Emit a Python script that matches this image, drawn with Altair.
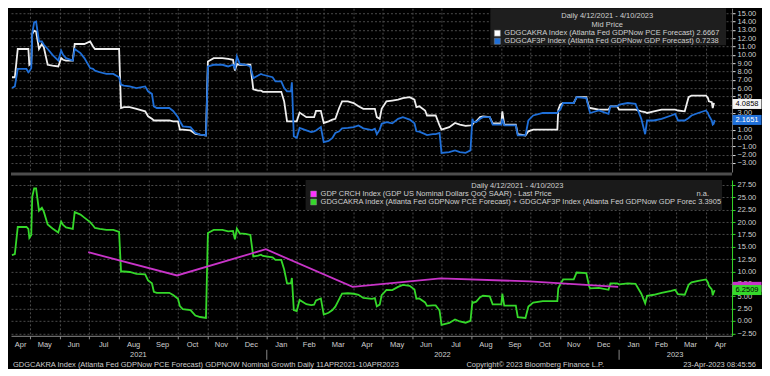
import altair as alt
import pandas as pd

# ---------------- data ----------------
dates = [
    "2021-04-12", "2021-04-15", "2021-04-18", "2021-04-27", "2021-04-29", "2021-04-30",
    "2021-05-02", "2021-05-03", "2021-05-05", "2021-05-07", "2021-05-10", "2021-05-13", "2021-05-15", "2021-05-19", "2021-05-24", "2021-05-30",
    "2021-06-02", "2021-06-04", "2021-06-07", "2021-06-14", "2021-06-16", "2021-06-22", "2021-06-26",
    "2021-07-02", "2021-07-05", "2021-07-07", "2021-07-12", "2021-07-19", "2021-07-26",
    "2021-08-01", "2021-08-03", "2021-08-06", "2021-08-12", "2021-08-19", "2021-08-28", "2021-08-31",
    "2021-09-04", "2021-09-06", "2021-09-09", "2021-09-22", "2021-09-26",
    "2021-10-01", "2021-10-03", "2021-10-06", "2021-10-14", "2021-10-19", "2021-10-24", "2021-10-30",
    "2021-11-01", "2021-11-07", "2021-11-16", "2021-11-22", "2021-11-27", "2021-11-29",
    "2021-12-01", "2021-12-04", "2021-12-10", "2021-12-15", "2021-12-18", "2021-12-23", "2021-12-26", "2021-12-28",
    "2022-01-07", "2022-01-10", "2022-01-16", "2022-01-19", "2022-01-22", "2022-01-26", "2022-01-27", "2022-01-29",
    "2022-02-01", "2022-02-04", "2022-02-11", "2022-02-16", "2022-02-19", "2022-02-21", "2022-02-26",
    "2022-03-01", "2022-03-06", "2022-03-10", "2022-03-13", "2022-03-17", "2022-03-20", "2022-03-26",
    "2022-04-01", "2022-04-06", "2022-04-11", "2022-04-20", "2022-04-23", "2022-04-25", "2022-04-28", "2022-04-30",
    "2022-05-05", "2022-05-11", "2022-05-17", "2022-05-22", "2022-05-29",
    "2022-06-03", "2022-06-05", "2022-06-08", "2022-06-14", "2022-06-16", "2022-06-22", "2022-06-25", "2022-06-29",
    "2022-07-01", "2022-07-09", "2022-07-15", "2022-07-20", "2022-07-26", "2022-07-31",
    "2022-08-02", "2022-08-03", "2022-08-06", "2022-08-10", "2022-08-13", "2022-08-20", "2022-08-23",
    "2022-09-01", "2022-09-02", "2022-09-04", "2022-09-16", "2022-09-18", "2022-09-26", "2022-09-29",
    "2022-10-04", "2022-10-14", "2022-10-29", "2022-10-30",
    "2022-11-01", "2022-11-04", "2022-11-15", "2022-11-18", "2022-11-28",
    "2022-12-01", "2022-12-02", "2022-12-11", "2022-12-21", "2022-12-23", "2022-12-30",
    "2023-01-01", "2023-01-10", "2023-01-18", "2023-01-24", "2023-01-28", "2023-01-30",
    "2023-02-06", "2023-02-14", "2023-02-24", "2023-02-28",
    "2023-03-03", "2023-03-10", "2023-03-14", "2023-03-17", "2023-03-24",
    "2023-04-01", "2023-04-03", "2023-04-04", "2023-04-07", "2023-04-08", "2023-04-09", "2023-04-10",
]

# GDGCAKRA Index (Atlanta Fed GDPNow PCE Forecast) - white
pce = [
    7.3, 7.3, 10.7, 10.7, 10.7, 8.8,
    9.0, 12.5, 12.9, 12.8, 10.7, 11.3, 10.9, 8.8, 8.7, 8.6,
    9.6, 9.4, 9.3, 9.3, 11.3, 11.3, 11.3,
    11.6, 11.0, 10.7, 10.7, 10.7, 10.7,
    10.7, 3.6, 3.7, 3.7, 3.5, 3.2, 2.6,
    2.3, 2.1, 2.1, 2.1, 2.0,
    2.0, 1.0, 1.0, 0.9, 0.5, 0.4, 0.3,
    9.2, 9.6, 9.6, 9.5, 9.4, 8.1,
    8.9, 8.8, 8.8, 8.8, 5.85, 5.7, 5.7, 5.55,
    5.55, 5.55, 5.55, 4.4, 2.0, 2.0, 2.0, 2.0,
    2.0, 3.05, 2.5, 2.5, 2.5, 3.25, 3.25,
    1.8, 2.0, 2.2, 2.3, 3.6, 4.4, 4.4,
    4.2, 3.8, 3.5, 3.5, 3.5, 2.5, 2.3, 3.5,
    4.4, 4.5, 4.6, 4.8, 4.9,
    4.6, 3.7, 3.8, 3.3, 2.7, 2.7, 2.7, 1.5,
    1.0, 1.3, 1.8, 1.6, 1.45, 1.5,
    1.55, 1.8, 2.0, 2.5, 2.6, 2.5, 1.75,
    1.75, 3.2, 1.6, 1.6, 0.45, 0.3, 0.8,
    1.0, 1.0, 1.0, 3.4,
    4.0, 4.2, 4.2, 4.9, 4.9,
    3.6, 3.6, 3.4, 3.4, 3.8, 3.8,
    3.4, 3.4, 3.4, 3.2, 3.1, 3.0,
    3.2, 3.4, 3.4, 3.4,
    3.3, 3.2, 4.9, 5.1, 5.1,
    5.1, 4.8, 4.4, 4.3, 3.6, 4.1, 4.0858,
]

# GDGCAF3P Index (Atlanta Fed GDPNow GDP Forecast) - blue
gdp = [
    6.0, 6.2, 8.3, 8.3, 7.9, 8.0,
    8.4, 12.6, 13.9, 14.0, 11.6, 11.6, 11.2, 10.7, 10.0, 9.3,
    10.5, 10.0, 9.6, 9.3, 10.7, 10.2, 9.6,
    8.4, 8.3, 8.1, 7.9, 7.7, 7.7,
    7.3, 6.4, 6.3, 6.2, 6.0, 6.2, 5.6,
    5.3, 3.8, 3.6, 3.6, 3.25,
    2.5, 2.0, 1.4, 1.3, 0.6, 0.4, 0.3,
    8.6, 8.8, 8.8, 8.6, 8.8, 8.4,
    9.8, 8.9, 8.8, 8.6, 7.2, 7.5, 7.7, 7.6,
    7.3, 6.8, 6.8, 6.0, 5.6, 5.6, 6.7, 0.2,
    0.0, 1.2, 0.9, 0.7, 0.8, 0.9, 1.3,
    -0.5, -0.35, 0.0, 0.6, 0.8, 1.15, 1.2,
    1.3, 1.5, 1.15, 0.95, 1.1, 0.45, 1.0, 1.7,
    1.9, 1.75, 2.3, 2.5, 2.2,
    1.75, 0.8, 0.75, 0.45, 0.35, 0.45, 0.45, 0.6,
    -1.8, -1.7, -1.5, -1.7, -1.8, -1.5,
    2.3, 1.9, 1.9, 2.3, 2.5, 2.5, 1.6,
    1.6, 2.3, 1.5, 1.5, 0.3, 0.3, 2.1,
    2.7, 3.0, 3.0, 3.2,
    3.4, 4.2, 4.2, 4.9, 4.8,
    3.4, 3.0, 3.3, 2.9, 3.8, 3.8,
    4.0, 4.2, 4.1, 2.3, 0.45, 2.1,
    2.1, 2.3, 2.7, 2.9,
    2.1, 2.1, 2.4, 2.7, 3.0,
    3.3, 3.0, 2.7, 2.1, 1.6, 1.7, 2.1651,
]

# GDP CRCH Index (GDP US Nominal Dollars QoQ SAAR) - magenta, quarterly
crch_dates = ["2021-06-30", "2021-09-30", "2021-12-31", "2022-03-31",
              "2022-06-30", "2022-09-30", "2022-12-31"]
crch_vals = [13.9, 9.2, 14.5, 6.9, 8.6, 8.0, 6.9]

# axis tick values
top_ticks = [-3, -2, -1, 0, 1, 2, 3, 4, 5, 6, 7, 8, 9, 10, 11, 12, 13, 14, 15]
bot_ticks = [-2.5, 0, 2.5, 5, 7.5, 10, 12.5, 15, 17.5, 20, 22.5, 25, 27.5]

# month and year labels (placed mid-period)
month_names = ["Apr", "May", "Jun", "Jul", "Aug", "Sep", "Oct", "Nov", "Dec",
               "Jan", "Feb", "Mar", "Apr", "May", "Jun", "Jul", "Aug", "Sep", "Oct", "Nov", "Dec",
               "Jan", "Feb", "Mar", "Apr"]
month_pos = ["2021-04-21", "2021-05-16", "2021-06-15", "2021-07-16", "2021-08-16", "2021-09-15",
             "2021-10-16", "2021-11-15", "2021-12-16", "2022-01-16", "2022-02-14", "2022-03-16",
             "2022-04-15", "2022-05-16", "2022-06-15", "2022-07-16", "2022-08-16", "2022-09-15",
             "2022-10-16", "2022-11-15", "2022-12-16", "2023-01-16", "2023-02-14", "2023-03-16",
             "2023-04-16"]
year_names = ["2021", "2022", "2023"]
year_pos = ["2021-08-21", "2022-07-02", "2023-02-28"]
year_breaks = ["2022-01-01", "2023-01-01"]

last_pce = 4.0858
last_gdp = 2.1651
last_sum = 6.2509
last_crch = 6.9

# ---------------- styling ----------------
F = "Liberation Sans"
FS = 7.5
TXT = "#cfcfcf"
C_WHITE = "#eeeeee"
C_BLUE = "#1f6fd8"
C_GREEN = "#35d82a"
C_MAG = "#c834c8"
GRID = "#4a4a4a"
LW = 1.8
W = 722
H_TOP = 164
H_BOT = 156

df = pd.DataFrame({"date": dates, "PCE": pce, "GDP": gdp})
crch = pd.DataFrame({"date": crch_dates, "value": crch_vals})
months = pd.DataFrame({"date": month_pos, "name": month_names})
years = pd.DataFrame({"date": year_pos, "name": year_names})
ybreaks = pd.DataFrame({"date": year_breaks})
ONE = pd.DataFrame({"k": [0]})

dom = [alt.DateTime(year=2021, month=4, date=11), alt.DateTime(year=2023, month=4, date=28)]
xscale = alt.Scale(domain=dom)

x_top = alt.X("date:T", scale=xscale, title=None,
              axis=alt.Axis(grid=True, gridDash=[2, 2], gridColor=GRID, labels=False,
                            ticks=False, domain=False,
                            tickCount={"interval": "month", "step": 1}))
x_bot = alt.X("date:T", scale=xscale, title=None,
              axis=alt.Axis(grid=True, gridDash=[2, 2], gridColor=GRID, labels=False,
                            ticks=True, tickSize=3, tickColor="#888888", domain=True,
                            domainColor="#888888",
                            tickCount={"interval": "month", "step": 1}))

y_top = alt.Y("value:Q", title=None,
              scale=alt.Scale(domain=[-4.1, 15.6], nice=False, zero=False),
              axis=alt.Axis(orient="right", values=top_ticks, format=".2f", grid=True,
                            gridDash=[2, 2], gridColor=GRID, labelColor=TXT, labelFont=F,
                            labelFontSize=FS, tickColor="#e0e0e0", tickSize=3,
                            domainColor="#777777", labelPadding=2))
y_bot = alt.Y("value:Q", title=None,
              scale=alt.Scale(domain=[-3.0, 28.5], nice=False, zero=False),
              axis=alt.Axis(orient="right", values=bot_ticks, format=".2f", grid=True,
                            gridDash=[2, 2], gridColor=GRID, labelColor=TXT, labelFont=F,
                            labelFontSize=FS, tickColor=C_GREEN, tickSize=3,
                            domainColor=C_GREEN, labelPadding=2))


def text(txt, x, y, align="left", color=TXT, size=FS):
    return alt.Chart(ONE).mark_text(text=txt, align=align, baseline="middle", font=F,
                                    fontSize=size, color=color).encode(
        x=alt.value(x), y=alt.value(y))


def swatch(color, x, y):
    return alt.Chart(ONE).mark_square(size=36, color=color, opacity=1,
                                      stroke="#888888", strokeWidth=0.5).encode(
        x=alt.value(x), y=alt.value(y))


def box(x1, x2, y1, y2, color):
    return alt.Chart(ONE).mark_rect(color=color).encode(
        x=alt.value(x1), x2=alt.value(x2), y=alt.value(y1), y2=alt.value(y2))


def value_box(v, fill, tcolor, yenc):
    d = pd.DataFrame({"value": [v], "label": [f"{v:.4f}"]})
    t = alt.Chart(d).mark_tick(orient="horizontal", size=29, thickness=10, color=fill,
                               opacity=1).encode(x=alt.value(W + 15), y=yenc)
    s = alt.Chart(d).mark_text(font=F, fontSize=FS, color=tcolor, baseline="middle",
                               align="center").encode(x=alt.value(W + 15), y=yenc,
                                                      text="label:N")
    return [t, s]


# ---------------- top panel ----------------
white_line = alt.Chart(df).transform_calculate(value="datum.PCE").mark_line(
    color=C_WHITE, strokeWidth=LW, interpolate="linear").encode(x=x_top, y=y_top)
blue_line = alt.Chart(df).transform_calculate(value="datum.GDP").mark_line(
    color=C_BLUE, strokeWidth=LW).encode(x=x_top, y=y_top)

top_layers = [
    white_line, blue_line,
    box(480, 716, 0, 37, "#1e1e1e"),
    text("Daily 4/12/2021 - 4/10/2023", 597, 8, align="center"),
    text("Mid Price", 597, 17, align="center"),
    swatch("#ffffff", 487, 25),
    text("GDGCAKRA Index (Atlanta Fed GDPNow PCE Forecast) 2.6667", 494, 25),
    swatch(C_BLUE, 487, 33),
    text("GDGCAF3P Index (Atlanta Fed GDPNow GDP Forecast) 0.7238", 494, 33),
    alt.Chart(ONE).mark_rule(color="#4d4d4d", strokeWidth=3).encode(
        x=alt.value(0), x2=alt.value(W), y=alt.value(H_TOP + 2)),
]
top_layers += value_box(last_pce, "#f4f4f4", "#000000", y_top)
top_layers += value_box(last_gdp, C_BLUE, "#ffffff", y_top)
top = alt.layer(*top_layers).properties(width=W, height=H_TOP)

# ---------------- bottom panel ----------------
green_line = alt.Chart(df).transform_calculate(value="datum.PCE + datum.GDP").mark_line(
    color=C_GREEN, strokeWidth=LW).encode(x=x_bot, y=y_bot)
mag_line = alt.Chart(crch).mark_line(color=C_MAG, strokeWidth=LW).encode(x=x_bot, y=y_bot)

month_text = alt.Chart(months).mark_text(font=F, fontSize=FS, color=TXT, baseline="middle").encode(
    x=x_bot, y=alt.value(H_BOT + 9), text="name:N")
year_text = alt.Chart(years).mark_text(font=F, fontSize=FS, color=TXT, baseline="middle").encode(
    x=x_bot, y=alt.value(H_BOT + 19), text="name:N")
year_rule = alt.Chart(ybreaks).mark_rule(color="#888888", strokeWidth=1).encode(
    x=x_bot, y=alt.value(H_BOT + 14), y2=alt.value(H_BOT + 24))

bot_layers = [
    green_line, mag_line,
    box(295, 712, 0, 30, "#1a1a1a"),
    text("Daily 4/12/2021 - 4/10/2023", 507, 6, align="center"),
    swatch("#ff33ff", 303, 14),
    text("GDP CRCH Index (GDP US Nominal Dollars QoQ SAAR) - Last Price", 310, 14),
    text("n.a.", 699, 14, align="right"),
    swatch(C_GREEN, 303, 22),
    text("GDGCAKRA Index (Atlanta Fed GDPNow PCE Forecast) + GDGCAF3P Index (Atlanta Fed GDPNow GDP Forec",
         310, 22),
    text("3.3905", 711, 22, align="right"),
    month_text, year_text, year_rule,
    text("GDGCAKRA Index (Atlanta Fed GDPNow PCE Forecast) GDPNOW Nominal Growth  Daily 11APR2021-10APR2023",
         2, H_BOT + 29),
    text("Copyright\u00a9 2023 Bloomberg Finance L.P.", 525, H_BOT + 29, align="center"),
    text("23-Apr-2023 08:45:56", 746, H_BOT + 29, align="right"),
]
mag_box = alt.Chart(pd.DataFrame({"value": [last_crch]})).mark_tick(
    orient="horizontal", size=29, thickness=10, color=C_MAG, opacity=1).encode(
    x=alt.value(W + 15), y=y_bot)
bot_layers.append(mag_box)
bot_layers += value_box(last_sum, C_GREEN, "#000000", y_bot)
bottom = alt.layer(*bot_layers).properties(width=W, height=H_BOT)

chart = alt.vconcat(top, bottom, spacing=4).configure(
    background="#000000", padding=0
).configure_view(stroke=None, fill="#000000")

chart.save("out.html", embed_options={"renderer": "svg", "actions": False})
